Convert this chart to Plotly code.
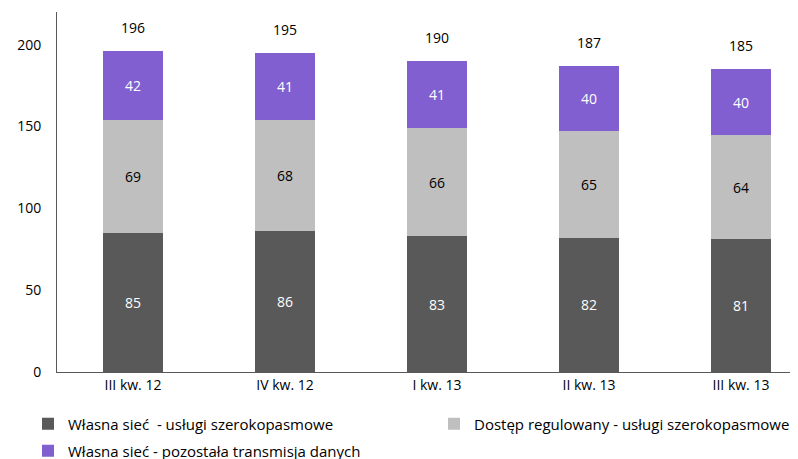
import plotly.graph_objects as go

categories = ["III kw. 12", "IV kw. 12", "I kw. 13", "II kw. 13", "III kw. 13"]
own_broadband = [85, 86, 83, 82, 81]
regulated_broadband = [69, 68, 66, 65, 64]
own_other = [42, 41, 41, 40, 40]
totals = [196, 195, 190, 187, 185]

series_names = [
    "Własna sieć  - usługi szerokopasmowe",
    "Dostęp regulowany - usługi szerokopasmowe",
    "Własna sieć - pozostała transmisja danych",
]
colors = ["#595959", "#BFBFBF", "#815FD0"]
text_colors = ["#FFFFFF", "#000000", "#FFFFFF"]
legends = ["legend", "legend2", "legend3"]

font_family = "Open Sans, sans-serif"

# the page body adds an 8px offset; the figure is sized to fill the rest of the window
W, H = 790, 451

fig = go.Figure()
for name, vals, col, tcol, lg in zip(series_names, [own_broadband, regulated_broadband, own_other],
                                     colors, text_colors, legends):
    fig.add_trace(go.Bar(
        x=categories, y=vals, name=name, marker=dict(color=col, line=dict(width=0)),
        text=[str(v) for v in vals], textposition="inside", insidetextanchor="middle",
        textfont=dict(color=tcol, size=14, family=font_family), width=0.4, legend=lg,
    ))

for c, t in zip(categories, totals):
    fig.add_annotation(x=c, y=t, text=str(t), showarrow=False, yanchor="bottom", yshift=12,
                       font=dict(size=14, color="#000000", family=font_family))

legend_font = dict(size=15, family=font_family, color="#000000")


def leg(xpx, ypx):
    return dict(orientation="h", xref="container", yref="container", x=xpx / W, xanchor="left",
                y=1 - ypx / H, yanchor="middle", font=legend_font, bgcolor="rgba(0,0,0,0)")


fig.update_layout(
    barmode="stack",
    width=W, height=H,
    margin=dict(l=49, r=0, t=4, b=87, autoexpand=False),
    plot_bgcolor="white", paper_bgcolor="white",
    font=dict(family=font_family, size=14, color="#000000"),
    showlegend=True,
    legend=leg(20, 416),
    legend2=leg(426, 416),
    legend3=leg(20, 443),
)
fig.update_xaxes(range=[-0.5, 4.375], showline=True, linecolor="#595959", linewidth=1,
                 ticks="", tickfont=dict(size=14), showgrid=False, automargin=False)
fig.update_yaxes(range=[0, 220], tickvals=[0, 50, 100, 150, 200], showline=True, linecolor="#595959",
                 linewidth=1, ticks="", showgrid=False, zeroline=False, tickfont=dict(size=14),
                 ticklabelstandoff=12, automargin=False)

fig.write_html("out.html")
